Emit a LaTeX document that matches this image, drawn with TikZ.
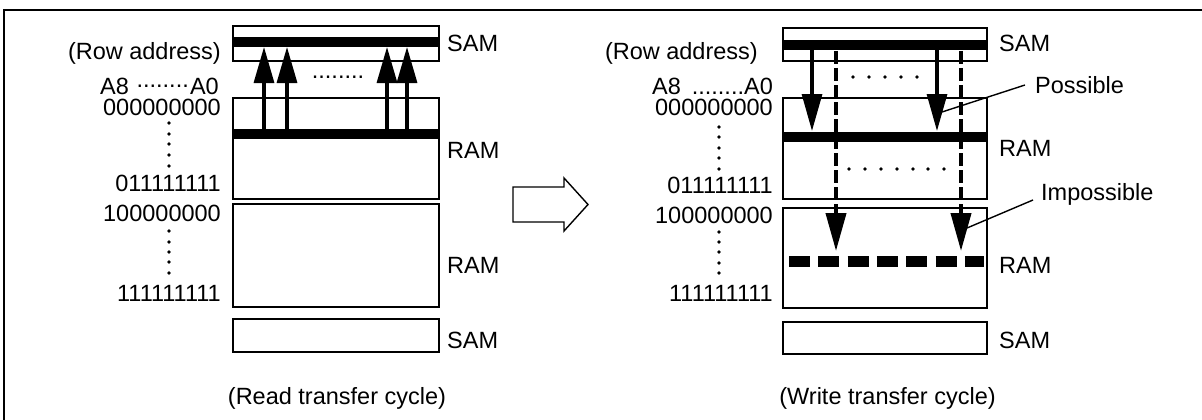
\documentclass[tikz,border=0pt]{standalone}
\usepackage{fontspec}
\setmainfont{Liberation Sans}
\usetikzlibrary{arrows.meta,calc}
\begin{document}
\begin{tikzpicture}[x=1pt,y=-1pt,
  every node/.style={inner sep=0pt, font=\fontsize{23.5}{26}\selectfont},
  box/.style={draw, line width=1.4pt, minimum width=#1},
  bar/.style={line width=10pt},
  dbar/.style={line width=11pt, dash pattern=on 21pt off 8.3pt},
  uparr/.style={line width=3.2pt, -{Triangle[length=36pt,width=20pt]}},
  dnarr/.style={line width=3.2pt, -{Triangle[length=37pt,width=20pt]}},
  dsharr/.style={line width=4pt, dash pattern=on 13pt off 4pt, -{Triangle[length=38pt,width=20pt]}},
  leader/.style={line width=1.4pt},
  frame/.style={line width=1.5pt},
  vdot/.style={fill, circle, minimum size=3.6pt}
]
\useasboundingbox (0,0) rectangle (1202,420);
% outer frame (cropped)
\coordinate (fbl) at (4,421);
\coordinate (ftl) at (4,10);
\coordinate (ftr) at (1203,10);
\draw[frame] (fbl) -- (ftl) -- (ftr);

% ================= LEFT PANEL =================
\node[box=206pt, minimum height=35pt] (lsam1) at (336,43.5) {};
\node[box=206pt, minimum height=101pt] (lram1) at (336,148.5) {};
\node[box=206pt, minimum height=103pt] (lram2) at (336,255.5) {};
\node[box=206pt, minimum height=33pt] (lsam2) at (336,335.5) {};
\coordinate (lsbL) at (233,42); \coordinate (lsbR) at (439,42);
\coordinate (lrbL) at (233,134); \coordinate (lrbR) at (439,134);
\draw[bar] (lsbL) -- (lsbR);
\draw[bar] (lrbL) -- (lrbR);
\foreach \i/\x in {1/264,2/287,3/387,4/407}{
  \coordinate (lu\i a) at (\x,129);
  \coordinate (lu\i b) at (\x,47);
  \draw[uparr] (lu\i a) -- (lu\i b);
}
\node (ldots) at (338,77) {........};
\node[anchor=west] (lsamt1) at (447,43) {SAM};
\node[anchor=west] (lramt1) at (447,150) {RAM};
\node[anchor=west] (lramt2) at (447,265) {RAM};
\node[anchor=west] (lsamt2) at (447,340) {SAM};
\node[anchor=east] (lrow) at (221,53) {(Row address)};
\node[anchor=west] (la8) at (100,86) {A8};
\node[anchor=east] (ladt) at (189,86) {........};
\node[anchor=east] (la0) at (219,86) {A0};
\node[anchor=east] (ln1) at (221,107) {000000000};
\node[anchor=east] (ln2) at (221,183) {011111111};
\node[anchor=east] (ln3) at (221,213) {100000000};
\node[anchor=east] (ln4) at (221,293) {111111111};
\foreach \y in {123,134,144,155,166,231,242,252,262,273}{
  \node[vdot] at (169,\y) {};
}
\node (lcap) at (337,398) {(Read transfer cycle)};

% hollow arrow
\coordinate (h1) at (513,187);
\coordinate (h2) at (564,187);
\coordinate (h3) at (564,178);
\coordinate (h4) at (588,204.5);
\coordinate (h5) at (564,231);
\coordinate (h6) at (564,222);
\coordinate (h7) at (513,222);
\draw[line width=1.4pt, fill=white] (h1) -- (h2) -- (h3) -- (h4) -- (h5) -- (h6) -- (h7) -- cycle;

% ================= RIGHT PANEL =================
\node[box=204pt, minimum height=33pt] (rsam1) at (885,44.5) {};
\node[box=204pt, minimum height=101pt] (rram1) at (885,148.5) {};
\node[box=204pt, minimum height=100pt] (rram2) at (885,258) {};
\node[box=204pt, minimum height=32pt] (rsam2) at (885,338) {};
\coordinate (rsbL) at (783,45); \coordinate (rsbR) at (987,45);
\coordinate (rrbL) at (783,137); \coordinate (rrbR) at (987,137);
\coordinate (rdbL) at (789,261.5); \coordinate (rdbR) at (984,261.5);
\draw[bar] (rsbL) -- (rsbR);
\draw[bar] (rrbL) -- (rrbR);
\draw[dbar] (rdbL) -- (rdbR);
% solid arrows
\coordinate (rs1a) at (812,50); \coordinate (rs1b) at (812,131);
\coordinate (rs2a) at (937,50); \coordinate (rs2b) at (937,131);
\draw[dnarr] (rs1a) -- (rs1b);
\draw[dnarr] (rs2a) -- (rs2b);
% dashed arrows
\coordinate (rd1a) at (836,51); \coordinate (rd1b) at (836,251);
\coordinate (rd2a) at (961,51); \coordinate (rd2b) at (961,251);
\draw[dsharr] (rd1a) -- (rd1b);
\draw[dsharr] (rd2a) -- (rd2b);
% dotted rows
\foreach \x in {853,869,885,901,917}{ \node[vdot] at (\x,77) {}; }
\foreach \x in {849,865,881,897,913,928,944}{ \node[vdot] at (\x,169) {}; }
% labels
\node[anchor=west] (rsamt1) at (999,43) {SAM};
\node[anchor=west] (rramt1) at (999,148) {RAM};
\node[anchor=west] (rramt2) at (999,265) {RAM};
\node[anchor=west] (rsamt2) at (999,340) {SAM};
\node[anchor=west] (poss) at (1035,85) {Possible};
\node[anchor=west] (imposs) at (1041,194) {Impossible};
\coordinate (posp) at (942,112);
\coordinate (impp) at (967,228);
\coordinate (poss0) at ($(poss.west)+(-10,0)$);
\coordinate (imp0) at ($(imposs.west)+(-8,6)$);
\draw[leader] (poss0) -- (posp);
\draw[leader] (imp0) -- (impp);
\node[anchor=east] (rrow) at (758,53) {(Row address)};
\node[anchor=west] (ra8) at (652,86) {A8};
\node[anchor=east] (ra0) at (773,86) {........A0};
\node[anchor=east] (rn1) at (773,107) {000000000};
\node[anchor=east] (rn2) at (773,185) {011111111};
\node[anchor=east] (rn3) at (773,215) {100000000};
\node[anchor=east] (rn4) at (773,293) {111111111};
\foreach \y in {127,137,148,158,169,232,242,252,263,273}{
  \node[vdot] at (719,\y) {};
}
\node (rcap) at (887.5,398) {(Write transfer cycle)};
\end{tikzpicture}
\end{document}
